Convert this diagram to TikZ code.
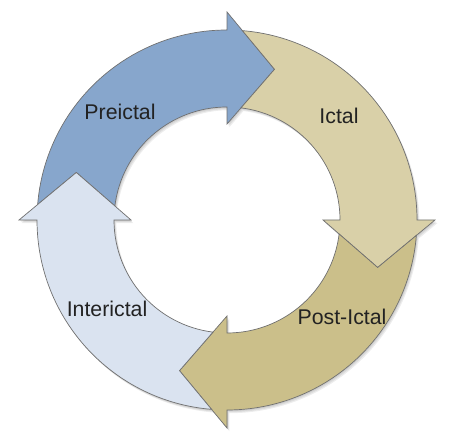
\documentclass[tikz,border=0pt]{standalone}
\usepackage{fontspec}
\setmainfont{Liberation Sans}
\definecolor{precol}{HTML}{87A6CC}
\definecolor{ictcol}{HTML}{D9D0A8}
\definecolor{postcol}{HTML}{CBBF8A}
\definecolor{intercol}{HTML}{DAE3F0}
\definecolor{edgecol}{HTML}{707070}
\definecolor{txtcol}{HTML}{222222}
\newcommand\cycarrow[2]{%
  \begin{scope}[shift={(227,223)},rotate=#1]
    \path[#2] (175.34:190) arc[start angle=175.34,end angle=90,radius=190]
      -- (90:208) -- (72.5:158) -- (90:96) -- (90:113)
      arc[start angle=90,end angle=172.88,radius=113]
      -- (162.5:158) -- cycle;
  \end{scope}}
\tikzset{
  arrowbody/.style={fill=#1,draw=edgecol,line width=0.7pt,line join=miter},
  shadowbody/.style={fill=black,opacity=0.07},
  lbl/.style={anchor=base,text=txtcol,font=\fontsize{21.3}{25}\selectfont,inner sep=0pt}
}
\begin{document}
\begin{tikzpicture}[x=1pt,y=1pt]
\useasboundingbox (0,0) rectangle (455,443);
% soft shadows
\foreach \dx/\dy in {0.8/-1.2,1.6/-2.2,2.4/-3.2}{
  \begin{scope}[xshift=\dx,yshift=\dy]
    \cycarrow{0}{shadowbody}
    \cycarrow{-90}{shadowbody}
    \cycarrow{-180}{shadowbody}
    \cycarrow{90}{shadowbody}
  \end{scope}
}
% arrows
\cycarrow{0}{arrowbody=precol}
\cycarrow{-90}{arrowbody=ictcol}
\cycarrow{-180}{arrowbody=postcol}
\cycarrow{90}{arrowbody=intercol}
% labels
\node[lbl] (pre) at (120,323) {Preictal};
\node[lbl] (ict) at (339,319) {Ictal};
\node[lbl] (post) at (342,118) {Post-Ictal};
\node[lbl] (inter) at (107,126) {Interictal};
\end{tikzpicture}
\end{document}
